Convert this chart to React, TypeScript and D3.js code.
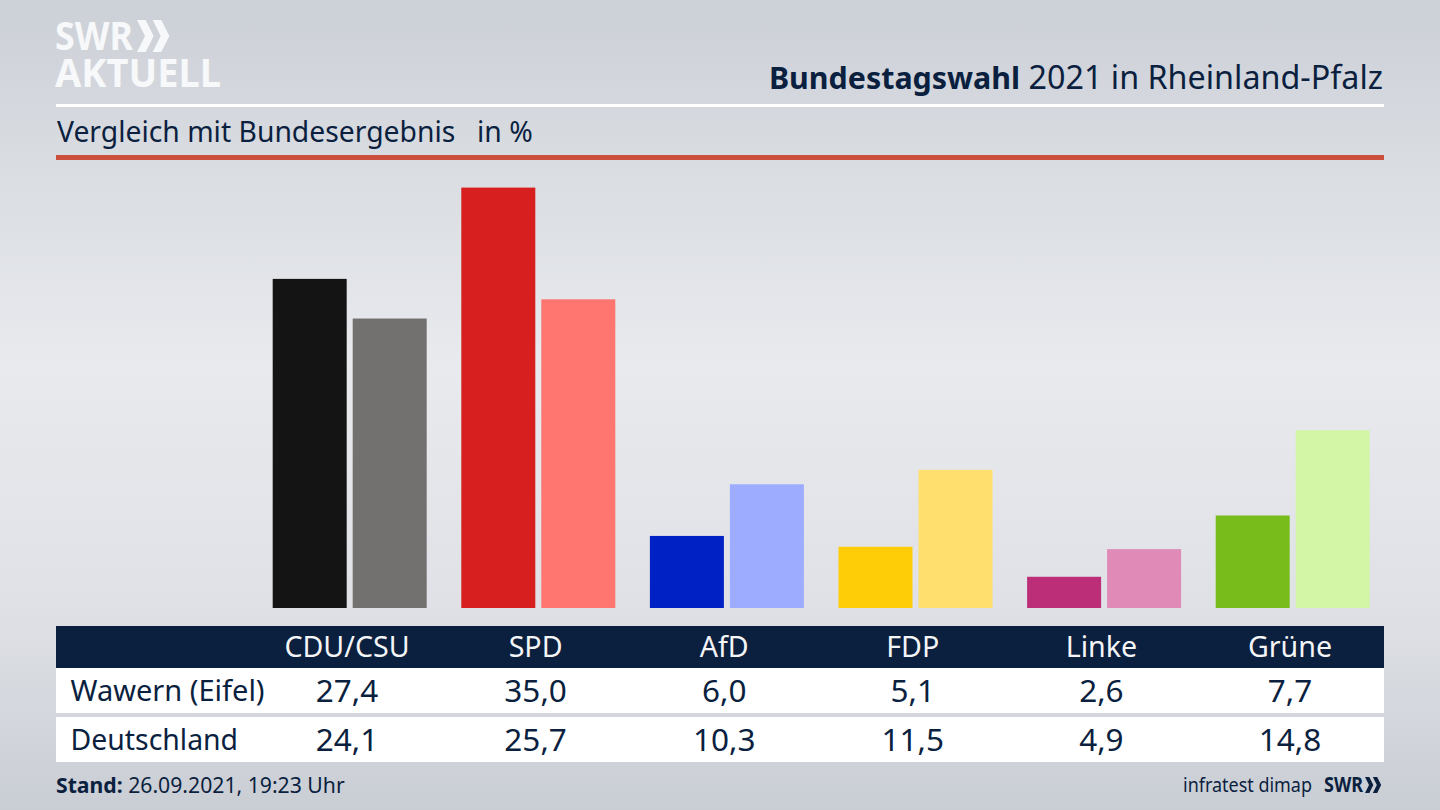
import React from 'react'
import * as d3 from 'd3'

const parties = ['CDU/CSU', 'SPD', 'AfD', 'FDP', 'Linke', 'Grüne']
const rowNames = ['Wawern (Eifel)', 'Deutschland']
const wawern = [27.4, 35.0, 6.0, 5.1, 2.6, 7.7]
const deutschland = [24.1, 25.7, 10.3, 11.5, 4.9, 14.8]
const localColors = ['#141414', '#d81f1f', '#0022c4', '#ffcc08', '#bc2f78', '#78bc1c']
const nationalColors = ['#73716f', '#ff756f', '#9dacff', '#ffe06f', '#e08ab8', '#d3f6a6']

const navy = '#0b1f3f'
const font = '"Noto Sans", sans-serif'
const fmt = (v: number) => v.toFixed(1).replace('.', ',')

const x = d3.scaleBand<string>().domain(parties).range([255.7, 1387.3])
const inner = d3.scaleBand<string>().domain(rowNames).range([0, 154]).paddingInner(6 / 80)
const y = d3.scaleLinear().domain([0, 35]).range([608, 187.6])
const rows = [wawern, deutschland]
const barColors = [localColors, nationalColors]
const rowBoxes = [{ y: 668, h: 45 }, { y: 717, h: 45 }]

function Chevrons({ x0, y0, h, fill }: { x0: number; y0: number; h: number; fill: string }) {
  const w = h * 0.25
  const t = h * 0.27
  const path = (o: number) =>
    `M${x0 + o},${y0}h${t}l${w},${h / 2}l${-w},${h / 2}h${-t}l${w},${-h / 2}z`
  return (
    <g fill={fill}>
      <path d={path(0)} />
      <path d={path(h * 0.49)} />
    </g>
  )
}

export default function App(): React.ReactElement {
  const labelX = (p: string) => x(p)! + x.bandwidth() / 2 - 3
  return (
    <svg
      width={1440}
      height={810}
      viewBox="0 0 1440 810"
      style={{ position: 'fixed', left: 0, top: 0, fontFamily: font }}
    >
      <defs>
        <linearGradient id="bg" x1="0" y1="0" x2="0" y2="1">
          <stop offset="0" stopColor="#ccd0d7" />
          <stop offset="0.2" stopColor="#d9dce1" />
          <stop offset="0.45" stopColor="#e8eaee" />
          <stop offset="0.75" stopColor="#dfe1e6" />
          <stop offset="1" stopColor="#c9cdd4" />
        </linearGradient>
      </defs>
      <rect width={1440} height={810} fill="url(#bg)" />

      {/* logo */}
      <g fill="#f7f8f9" fontWeight={700}>
        <text x={55} y={50} fontSize={40} textLength={78} lengthAdjust="spacingAndGlyphs">SWR</text>
        <Chevrons x0={137} y0={20} h={32} fill="#f7f8f9" />
        <text x={55} y={87} fontSize={40} textLength={166} lengthAdjust="spacingAndGlyphs">AKTUELL</text>
      </g>

      <text x={1383} y={89} textAnchor="end" fontSize={32.3} fill={navy}>
        <tspan fontWeight={700} fontSize={30.4}>Bundestagswahl</tspan> 2021 in Rheinland-Pfalz
      </text>
      <rect x={56} y={104} width={1328} height={3} fill="#fff" />
      <text x={57} y={142} fontSize={28.3} fill={navy}>Vergleich mit Bundesergebnis</text>
      <text x={477} y={142} fontSize={28.3} fill={navy}>in %</text>
      <rect x={56} y={155} width={1328} height={5} fill="#cc4f3c" />

      {/* bars */}
      {rowNames.map((r, i) => (
        <g key={r}>
          {parties.map((p, j) => (
            <rect
              key={p}
              x={x(p)! + 17 + inner(r)!}
              y={y(rows[i][j])}
              width={inner.bandwidth()}
              height={y(0) - y(rows[i][j])}
              fill={barColors[i][j]}
            />
          ))}
        </g>
      ))}

      {/* table */}
      <rect x={56} y={626} width={1328} height={42} fill={navy} />
      {parties.map((p) => (
        <text key={p} x={labelX(p)} y={657} textAnchor="middle" fontSize={28.6} fill="#f4f5f7">{p}</text>
      ))}
      {rowNames.map((r, i) => (
        <g key={r} fill={navy}>
          <rect x={56} y={rowBoxes[i].y} width={1328} height={rowBoxes[i].h} fill="#fff" />
          <text x={70.5} y={rowBoxes[i].y + 33} fontSize={i === 0 ? 29 : 28.4}>{r}</text>
          {parties.map((p, j) => (
            <text key={p} x={labelX(p)} y={rowBoxes[i].y + 34} textAnchor="middle" fontSize={31.5}>
              {fmt(rows[i][j])}
            </text>
          ))}
        </g>
      ))}

      {/* footer */}
      <text x={56} y={793} fontSize={21.2} fill={navy}>
        <tspan fontWeight={700}>Stand:</tspan> 26.09.2021, 19:23 Uhr
      </text>
      <text x={1312} y={792} textAnchor="end" fontSize={20} fill={navy} textLength={129} lengthAdjust="spacingAndGlyphs">infratest dimap</text>
      <text x={1324} y={792} fontSize={21} fontWeight={700} fill={navy} textLength={39} lengthAdjust="spacingAndGlyphs">SWR</text>
      <Chevrons x0={1365} y0={777} h={16} fill={navy} />
    </svg>
  )
}
